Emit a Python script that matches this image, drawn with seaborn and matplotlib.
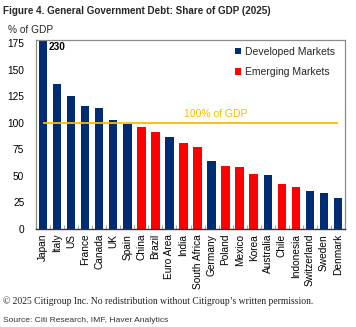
import matplotlib
matplotlib.use("Agg")
import matplotlib.pyplot as plt
from matplotlib.patches import Patch
import seaborn as sns
import pandas as pd

# General government debt, % of GDP (2025)
countries = ["Japan", "Italy", "US", "France", "Canada", "UK", "Spain", "China",
             "Brazil", "Euro Area", "India", "South Africa", "Germany", "Poland",
             "Mexico", "Korea", "Australia", "Chile", "Indonesia", "Switzerland",
             "Sweden", "Denmark"]
debt = [230, 137, 125, 116, 114, 103, 99, 96, 91, 87, 81, 77, 64, 59, 58, 52,
        51, 42, 40, 36, 34, 29]
group = ["Developed Markets"] * 7 + ["Emerging Markets"] * 2 + ["Developed Markets"] \
    + ["Emerging Markets"] * 2 + ["Developed Markets"] + ["Emerging Markets"] * 3 \
    + ["Developed Markets"] + ["Emerging Markets"] * 2 + ["Developed Markets"] * 3
yticks = [0, 25, 50, 75, 100, 125, 150, 175]
threshold = 100

NAVY = "#002C73"
RED = "#FF0000"
GOLD = "#F6BE00"
palette = {"Developed Markets": NAVY, "Emerging Markets": RED}

df = pd.DataFrame({"country": countries, "debt": debt, "group": group})

sns.set_theme(style="white")
plt.rcParams["font.family"] = ["Liberation Sans", "DejaVu Sans"]

fig = plt.figure(figsize=(3.56, 3.27), dpi=100)
ax = fig.add_axes([36 / 356, 1 - 229 / 327, 309 / 356, 189 / 327])

sns.barplot(data=df, x="country", y="debt", hue="group", palette=palette,
            dodge=False, width=0.6, legend=False, ax=ax, saturation=1,
            linewidth=0)

ax.set_ylim(0, 178)
ax.set_xlim(-0.5, len(countries) - 0.5)
ax.set_yticks(yticks)
ax.set_xlabel("")
ax.set_ylabel("")
ax.tick_params(axis="y", length=0, pad=8.5, labelsize=7.3, colors="black")
ax.tick_params(axis="x", length=0, pad=3.5, labelsize=7.3, labelrotation=90,
               colors="black")
ax.set_xticks(range(len(countries)), countries)
# small separators between categories on the baseline
ax.set_xticks([i + 0.5 for i in range(len(countries) - 1)], minor=True)
ax.tick_params(axis="x", which="minor", direction="in", length=3, width=0.6,
               color="#999999", bottom=True)

for side in ["top", "right", "left"]:
    ax.spines[side].set_color("#8c8c8c")
    ax.spines[side].set_linewidth(0.9)
ax.spines["bottom"].set_color("#333333")
ax.spines["bottom"].set_linewidth(1.0)

# 100% of GDP reference line
ax.hlines(threshold, 0, len(countries) - 1, color=GOLD, linewidth=1.3, zorder=3)
ax.text(12.3, threshold + 3.5, "100% of GDP", color=GOLD, fontsize=7.5,
        ha="center", va="bottom")

# value of the bar that runs off the scale
ax.text(0.38, 176, f"{debt[0]}", fontsize=7.3, fontweight="bold",
        ha="left", va="top", color="black")

handles = [Patch(facecolor=NAVY, edgecolor="none", label="Developed Markets"),
           Patch(facecolor=RED, edgecolor="none", label="Emerging Markets")]
ax.legend(handles=handles, loc="upper left", bbox_to_anchor=(0.645, 0.965),
          frameon=False, fontsize=7.5, handlelength=0.55, handleheight=0.6,
          handletextpad=0.35, labelspacing=1.0, borderpad=0, borderaxespad=0)

fig.text(8 / 356, 1 - 30 / 327, "% of GDP", fontsize=7.3, ha="left", va="center")
fig.text(3 / 356, 1 - 11 / 327, "Figure 4. General Government Debt: Share of GDP (2025)",
         fontsize=7.1, fontweight="bold", ha="left", va="center",
         family=["Liberation Sans Narrow", "Liberation Sans", "DejaVu Sans"])
fig.text(3 / 356, 1 - 301 / 327,
         "\u00a9 2025 Citigroup Inc. No redistribution without Citigroup\u2019s written permission.",
         fontsize=6.9, ha="left", va="center",
         family=["Liberation Serif", "DejaVu Serif"], color="#222222")
fig.text(3 / 356, 1 - 320 / 327, "Source: Citi Research, IMF, Haver Analytics",
         fontsize=6.1, ha="left", va="center",
         family=["Liberation Sans Narrow", "Liberation Sans", "DejaVu Sans"],
         color="#333333")

fig.savefig("out.png", dpi=100)
